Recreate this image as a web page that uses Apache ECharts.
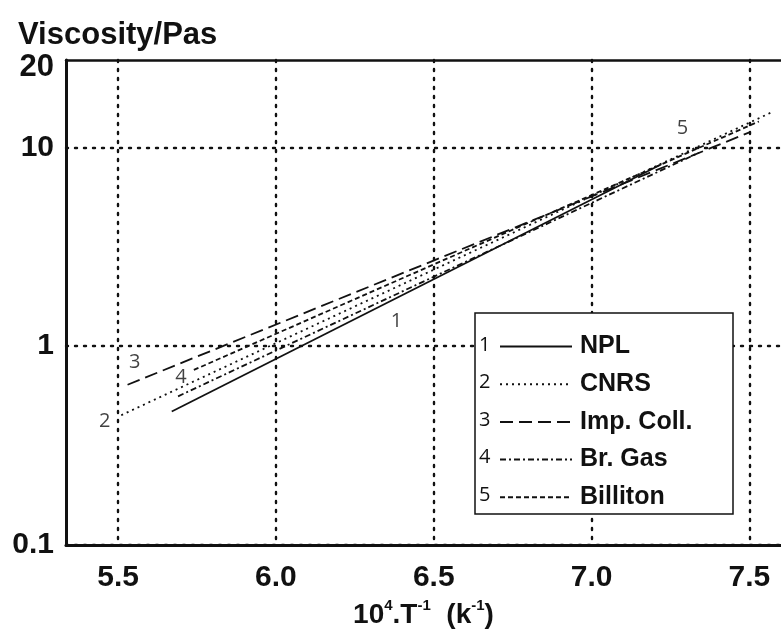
<!DOCTYPE html>
<html>
<head>
<meta charset="utf-8">
<script src="https://cdn.jsdelivr.net/npm/echarts@6/dist/echarts.min.js"></script>
<style>html,body{margin:0;padding:0;background:#fff;}#c{width:781px;height:634px;}</style>
</head>
<body>
<div id="c"></div>
<script>
// ---- data ----
const seriesNames = ['NPL', 'CNRS', 'Imp. Coll.', 'Br. Gas', 'Billiton'];
const seriesNumbers = ['1', '2', '3', '4', '5'];
const nplLine      = [[5.67, 0.47], [7.22, 8.2]];
const cnrsLine     = [[5.51, 0.45], [7.57, 15.0]];
const impCollLine  = [[5.53, 0.64], [7.50, 11.9]];
const brGasLine    = [[5.69, 0.56], [7.34, 9.4]];
const billitonLine = [[5.74, 0.76], [7.53, 13.5]];
// on-plot number labels [x, y, label]
const curveLabels = [[6.382, 1.33, '1'], [5.458, 0.42, '2'], [5.553, 0.83, '3'], [5.699, 0.70, '4'], [7.288, 12.4, '5']];
const xTicks = [5.5, 6.0, 6.5, 7.0, 7.5];
const yTicks = [0.1, 1, 10];
const X_MIN = 5.335, X_MAX = 7.6;
const Y_MIN = 0.1, Y_TOP = 27.5;   // top of the axis, labelled "20" in the original
const yTopLabel = '20';

const F = "'Liberation Sans', Arial, Helvetica, sans-serif";
const dotted = { color: '#111', width: 2.4, type: [2, 7], cap: 'round' };

const chart = echarts.init(document.getElementById('c'), null, { renderer: 'canvas' });
const lineStyles = [
  { type: 'solid' },
  { type: [2, 4] },
  { type: [13, 6] },
  { type: [6, 3, 2, 3] },
  { type: [5, 3] }
];
const lineData = [nplLine, cnrsLine, impCollLine, brGasLine, billitonLine];

const series = lineData.map((d, i) => ({
  name: seriesNames[i],
  type: 'line',
  data: d,
  symbol: 'none',
  silent: true,
  z: 3,
  itemStyle: { color: '#111' },
  lineStyle: Object.assign({ color: '#111', width: 1.8 }, lineStyles[i])
}));
series.push({
  name: 'labels',
  type: 'scatter',
  data: curveLabels,
  symbolSize: 0,
  silent: true,
  z: 3,
  label: {
    show: true, position: 'inside',
    formatter: p => p.data[2],
    fontFamily: "'Open Sans', 'DejaVu Sans', sans-serif",
    fontSize: 20, color: '#111'
  }
});

const legendRows = seriesNumbers.map((n, i) => ({
  type: 'text', z: 6,
  left: 479, top: 335 + i * 37.5,
  style: { text: n, font: "20px 'Open Sans', 'DejaVu Sans', sans-serif", fill: '#111' }
}));

chart.setOption({
  animation: false,
  backgroundColor: '#fff',
  title: {
    text: 'Viscosity/Pas', left: 13, top: 15,
    textStyle: { fontFamily: F, fontWeight: 'bold', fontSize: 31, color: '#111' }
  },
  grid: { left: 66, top: 60, right: 0, bottom: 86 },
  xAxis: [{
    type: 'value', min: X_MIN, max: X_MAX,
    axisLine: { show: true, onZero: false, lineStyle: { color: '#111', width: 3 } },
    axisTick: { show: false, customValues: xTicks },
    axisLabel: {
      customValues: xTicks, margin: 18,
      formatter: v => v.toFixed(1),
      fontFamily: F, fontWeight: 'bold', fontSize: 30, color: '#111'
    },
    splitLine: { show: true, lineStyle: dotted },
    name: '{b|10}{s|4}{b|.T}{s|-1}{b|  (k}{s|-1}{b|)}',
    nameLocation: 'middle', nameGap: 50,
    nameTextStyle: {
      rich: {
        b: { fontFamily: F, fontWeight: 'bold', fontSize: 28, color: '#111', lineHeight: 34 },
        s: { fontFamily: F, fontWeight: 'bold', fontSize: 15, color: '#111', lineHeight: 34, verticalAlign: 'top', padding: [0, 0, 14, 0] }
      }
    }
  }, {
    type: 'value', min: X_MIN, max: X_MAX, position: 'top',
    axisLine: { show: true, onZero: false, lineStyle: { color: '#111', width: 2.5 } },
    axisTick: { show: false }, axisLabel: { show: false }, splitLine: { show: false }
  }],
  yAxis: {
    type: 'log', logBase: 10, min: Y_MIN, max: Y_TOP,
    axisLine: { show: true, onZero: false, lineStyle: { color: '#111', width: 3 } },
    axisTick: { show: false, customValues: yTicks },
    axisLabel: {
      customValues: yTicks.concat([Y_TOP]), margin: 12,
      formatter: v => (v > 15 ? '{t|' + yTopLabel + '}' : (v < 0.5 ? '0.1' : String(Math.round(v)))),
      fontFamily: F, fontWeight: 'bold', fontSize: 30, color: '#111',
      rich: { t: { fontFamily: F, fontWeight: 'bold', fontSize: 31, color: '#111', padding: [14, 0, 0, 0] } }
    },
    splitLine: { show: true, lineStyle: dotted },
    minorSplitLine: { show: false }
  },
  legend: {
    data: seriesNames,
    orient: 'vertical', left: 494, top: 329, z: 6,
    itemWidth: 72, itemHeight: 14, itemGap: 12.7,
    itemStyle: { opacity: 0 },
    textStyle: { fontFamily: F, fontWeight: 'bold', fontSize: 25, color: '#111', lineHeight: 24, height: 24, padding: [0, 0, 0, 3] },
    selectedMode: false
  },
  graphic: [{
    type: 'rect', z: 4,
    shape: { x: 475, y: 313, width: 258, height: 201 },
    style: { fill: '#fff', stroke: '#111', lineWidth: 1.5 }
  }].concat(legendRows),
  series: series
});
</script>
</body>
</html>
